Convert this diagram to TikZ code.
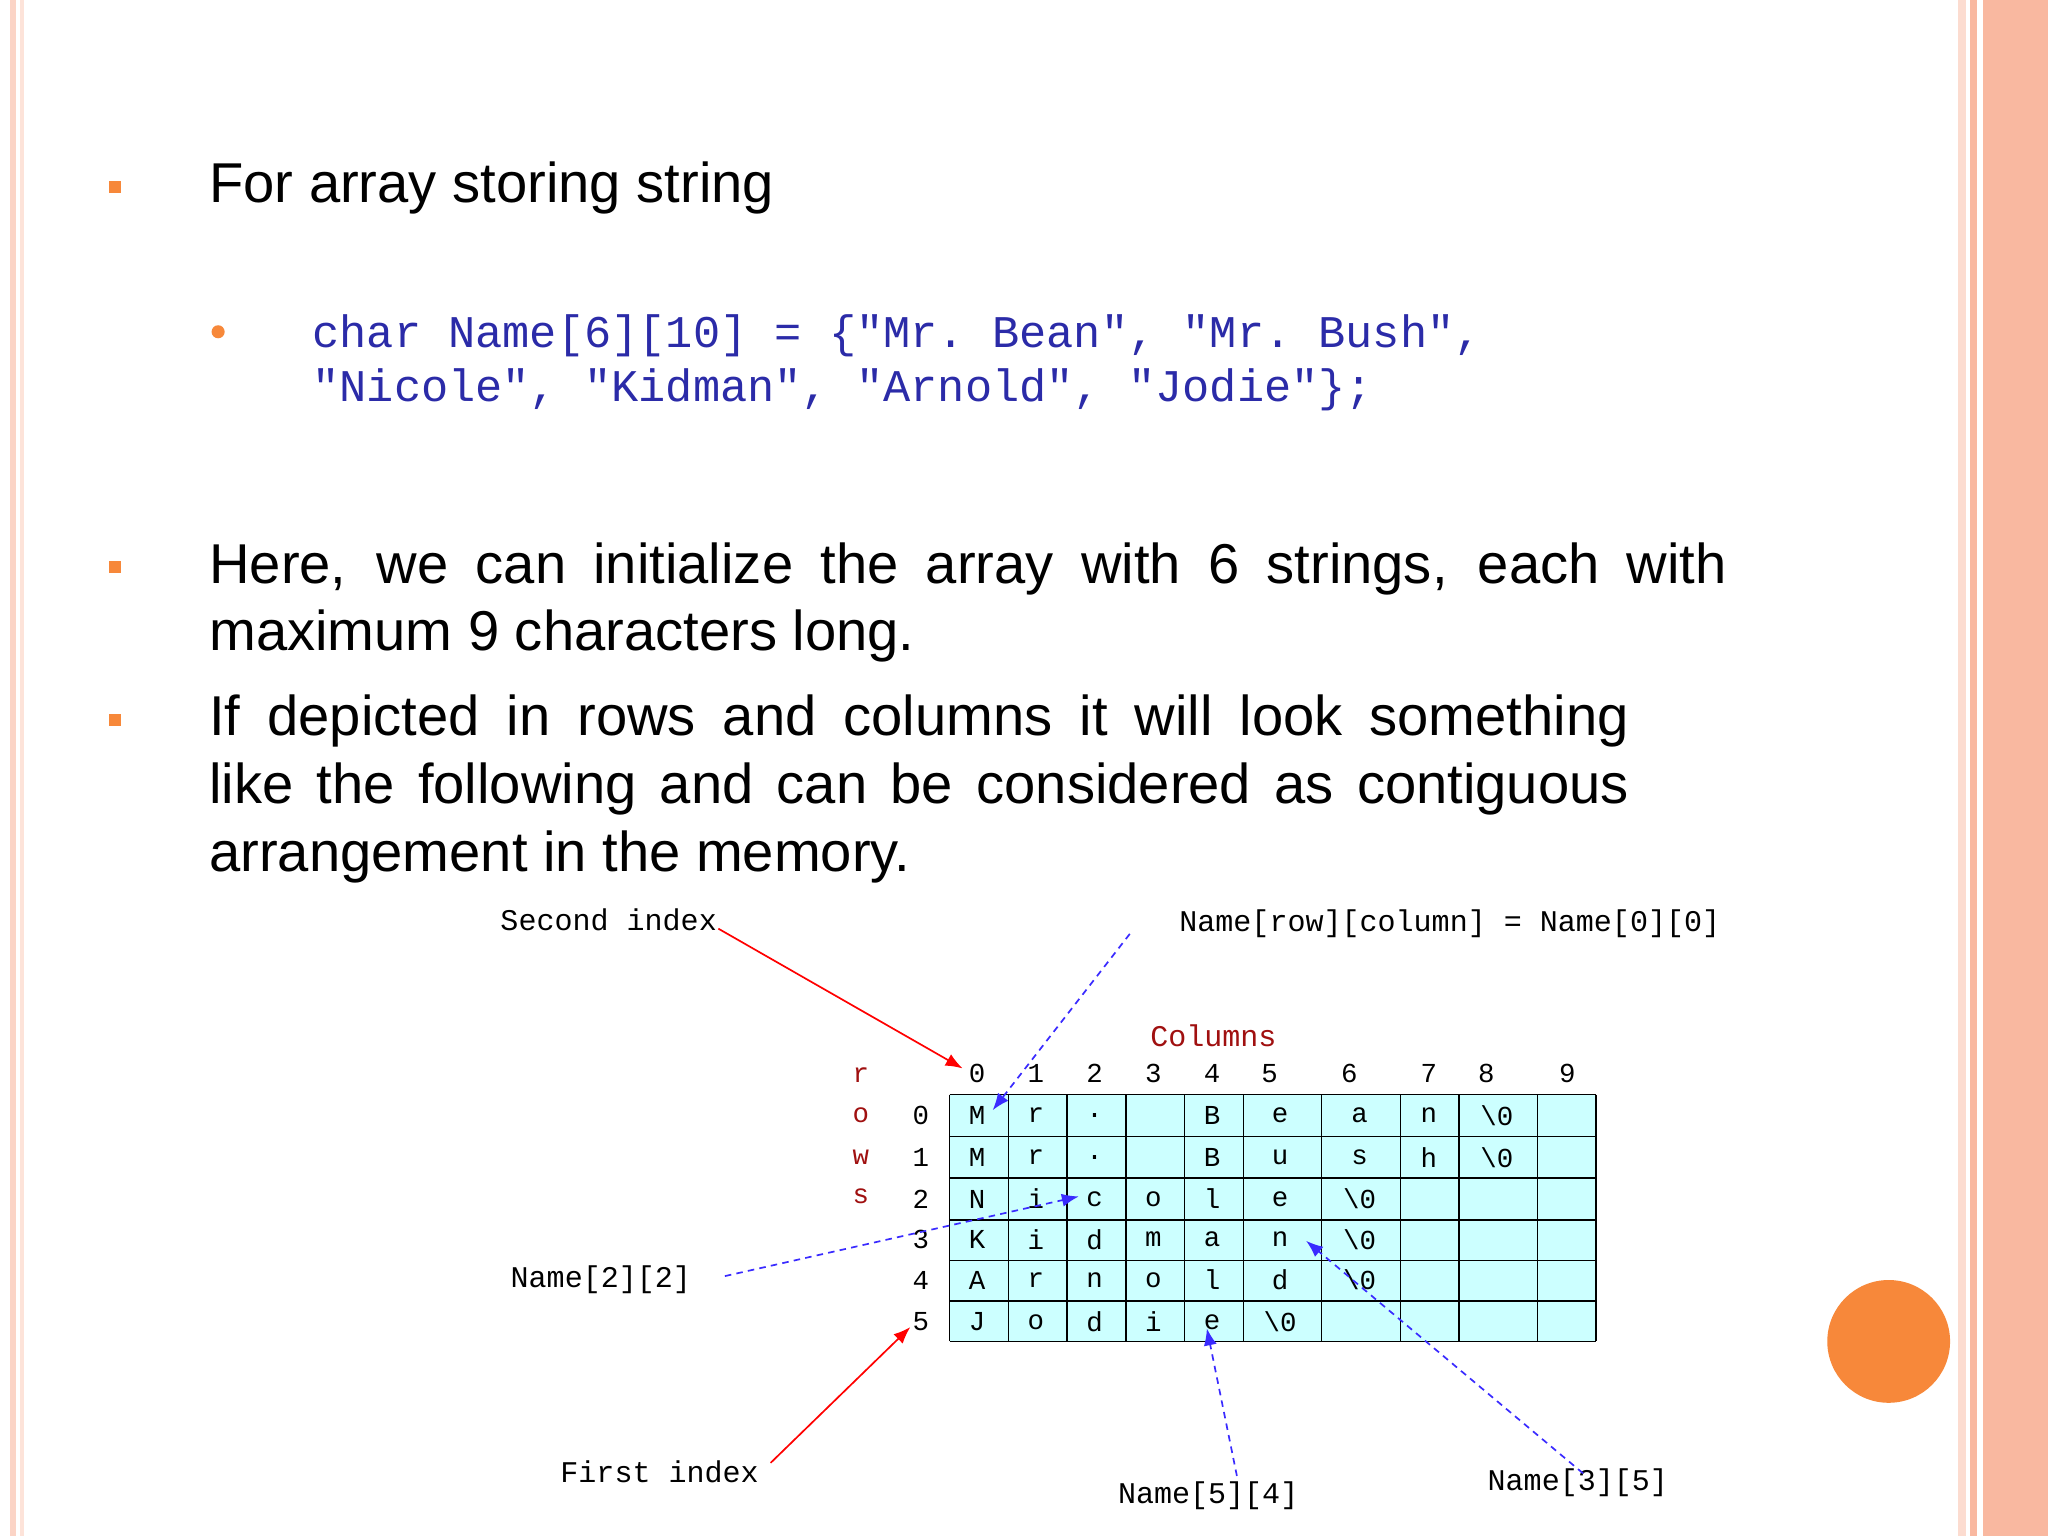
\documentclass[tikz,border=0pt]{standalone}
\usepackage{fontspec}
\usetikzlibrary{arrows.meta}
\setmainfont{Liberation Sans}
\setmonofont{Liberation Mono}
\definecolor{codeblue}{HTML}{2B2BA8}
\definecolor{orng}{HTML}{F7883A}
\definecolor{salmon}{HTML}{F9B8A0}
\definecolor{cellc}{HTML}{CCFFFF}
\definecolor{darkred}{HTML}{A01010}
\definecolor{arrblue}{HTML}{3A2BFF}
\tikzset{
 main/.style={font=\fontsize{43}{52}\selectfont,anchor=north west,inner sep=0,align=left},
 code/.style={font=\fontsize{34.7}{41}\ttfamily,text=codeblue,anchor=north west,inner sep=0},
 g/.style={font=\fontsize{21}{21}\ttfamily,inner sep=0},
 lab/.style={font=\fontsize{23}{23}\ttfamily,inner sep=0},
 redarr/.style={red,line width=1.3pt,-{Latex[length=13pt,width=10pt]}},
 bluearr/.style={arrblue,line width=1.3pt,dash pattern=on 5pt off 4pt,-{Latex[length=13pt,width=10pt]}},
 sq/.style={fill=orng,minimum size=9pt,inner sep=0}
}
\begin{document}
\begin{tikzpicture}[x=1pt,y=-1pt]
\useasboundingbox (0,0) rectangle (1568,1176);
\fill[white] (0,0) rectangle (1568,1176);
% borders
\fill[salmon!60] (8,0) rectangle (12,1176);
\fill[salmon!40] (15,0) rectangle (18,1176);
\fill[salmon!50] (1499,0) rectangle (1505,1176);
\fill[salmon] (1508,0) rectangle (1514,1176);
\fill[salmon] (1518,0) rectangle (1568,1176);
\fill[orng] (1446,1027) circle (47);
% bullets
\node[sq] (b1) at (88,143) {};
\node[sq] (b2) at (88,434) {};
\node[sq] (b3) at (88,551) {};
\fill[orng] (167,254) circle (5);
\node[main] (t1) at (160,124) {For array storing string};
\node[code] (c1) at (239,241) {char Name[6][10] = \{"Mr. Bean", "Mr. Bush",};
\node[code] (c2) at (239,282) {"Nicole", "Kidman", "Arnold", "Jodie"\};};
\node[main] (t2) at (160,415) {\makebox[1162pt][s]{Here, we can initialize the array with 6 strings, each with}\\maximum 9 characters long.};
\node[main] (t3) at (160,532) {\makebox[1087pt][s]{If depicted in rows and columns it will look something}\\\makebox[1087pt][s]{like the following and can be considered as contiguous}\\arrangement in the memory.};
% grid
\fill[cellc] (727,838) rectangle (1222,1027);
\foreach \x in {727,772,817,862,907,952,1012,1072,1117,1177,1222} \draw[line width=1pt] (\x,838) -- (\x,1027);
\foreach \y in {838,870,902,934,965,996,1027} \draw[line width=1pt] (727,\y) -- (1222,\y);
\foreach \c/\x in {0/748,1/793,2/838,3/883,4/928,5/972,6/1033,7/1094,8/1138,9/1200} \node[g] at (\x,822) {\c};
\foreach \r/\y in {0/854,1/886,2/918,3/949,4/980,5/1012} \node[g] at (705,\y) {\r};
\foreach \l/\y in {r/823,o/854,w/886,s/916} \node[g,text=darkred] at (659,\y) {\l};
\node[lab,text=darkred] (cols) at (929,793) {Columns};
\def\cx{{748,793,838,883,928,980,1041,1094,1146,1200}}
\foreach \y/\row in {854/{M,r,.,,B,e,a,n,\textbackslash 0},886/{M,r,.,,B,u,s,h,\textbackslash 0},918/{N,i,c,o,l,e,\textbackslash 0},949/{K,i,d,m,a,n,\textbackslash 0},980/{A,r,n,o,l,d,\textbackslash 0},1012/{J,o,d,i,e,\textbackslash 0}}{
 \foreach \ch [count=\i from 0] in \row {\node[g] at ({\cx[\i]},\y) {\ch};}
}
% labels and arrows
\node[lab] (si) at (466,704) {Second index};
\coordinate (siE) at (737,818);
\draw[redarr] (550,711) -- (siE);
\node[lab] (nrc) at (1110,707) {Name[row][column] = Name[0][0]};
\coordinate (nrcE) at (760,850);
\draw[bluearr] (865,715) -- (nrcE);
\node[lab] (n22) at (460,980) {Name[2][2]};
\coordinate (n22E) at (826,916);
\draw[bluearr] (555,977) -- (n22E);
\node[lab] (fi) at (505,1127) {First index};
\coordinate (fiE) at (697,1016);
\draw[redarr] (590,1120) -- (fiE);
\node[lab] (n54) at (925,1145) {Name[5][4]};
\coordinate (n54E) at (924,1017);
\draw[bluearr] (947,1130) -- (n54E);
\node[lab] (n35) at (1208,1135) {Name[3][5]};
\coordinate (n35E) at (1000,950);
\draw[bluearr] (1212,1128) -- (n35E);
\end{tikzpicture}
\end{document}
